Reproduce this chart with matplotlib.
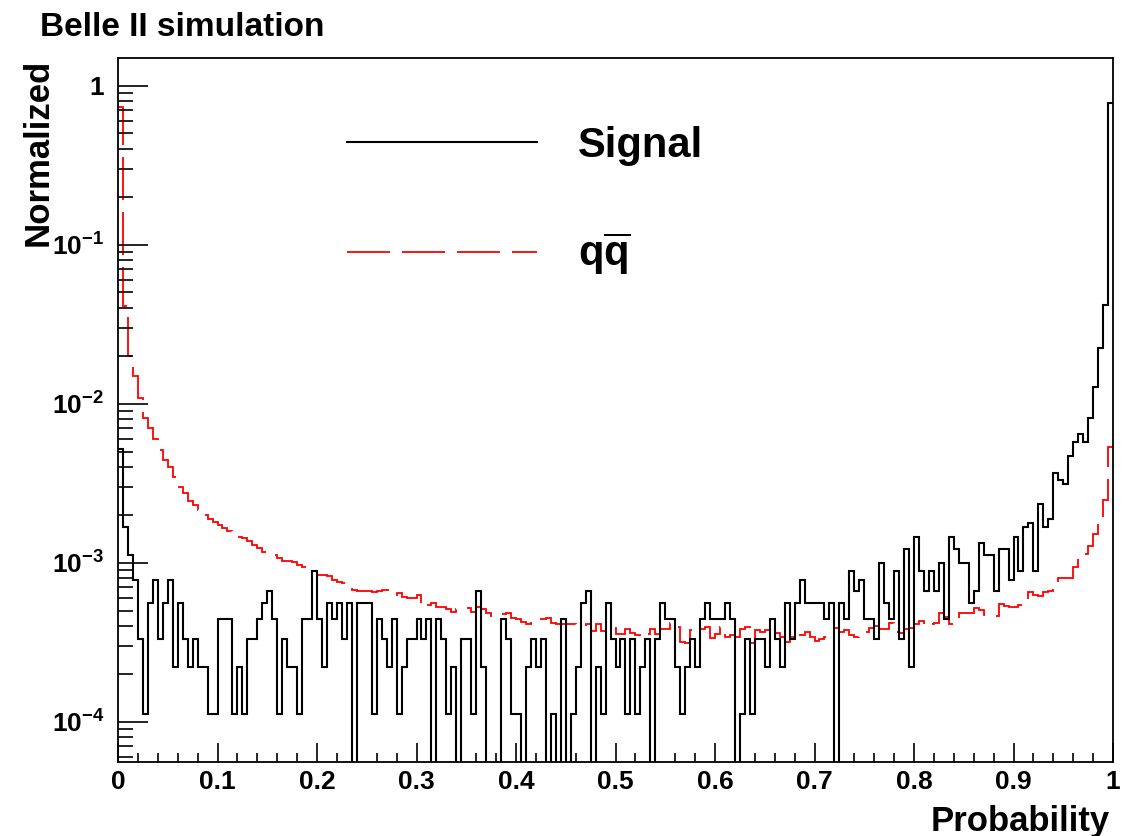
import numpy as np
import matplotlib
matplotlib.use('Agg')
from matplotlib import pyplot as plt
from matplotlib.lines import Line2D
from matplotlib.ticker import LogLocator, MultipleLocator, NullFormatter

plt.rcParams['font.family'] = 'Liberation Sans'
plt.rcParams['font.weight'] = 'bold'
plt.rcParams['mathtext.fontset'] = 'custom'
plt.rcParams['mathtext.rm'] = 'Liberation Sans:bold'
plt.rcParams['mathtext.it'] = 'Liberation Sans:bold'
plt.rcParams['mathtext.bf'] = 'Liberation Sans:bold'
plt.rcParams['lines.scale_dashes'] = False

# histogram binning
x_lo, x_hi, n_bins = 0.0, 1.0, 200

# signal: entries per bin, one entry = 1.11e-4 after normalisation
signal_unit = 1.11e-4
signal_counts = [
    47, 15, 10, 7, 3, 1, 5, 7, 3, 5, 7, 2, 5, 3, 2, 3, 2, 2, 1, 1,
    4, 4, 4, 1, 2, 1, 3, 3, 4, 5, 6, 4, 1, 3, 2, 2, 1, 4, 4, 8,
    4, 2, 5, 4, 5, 3, 5, 0, 5, 5, 5, 1, 4, 3, 2, 4, 1, 2, 3, 3,
    4, 3, 4, 0, 4, 3, 1, 2, 0, 3, 3, 1, 6, 2, 0, 0, 0, 4, 3, 1,
    1, 0, 2, 3, 2, 3, 0, 1, 0, 4, 0, 1, 2, 5, 6, 0, 2, 1, 5, 3,
    2, 3, 1, 3, 1, 2, 3, 0, 3, 5, 4, 4, 2, 1, 2, 3, 2, 4, 5, 4,
    4, 4, 5, 4, 0, 1, 3, 1, 3, 3, 2, 4, 3, 2, 5, 3, 5, 7, 5, 5,
    5, 5, 4, 5, 0, 5, 4, 8, 6, 7, 4, 4, 3, 9, 5, 4, 8, 3, 11, 2,
    13, 8, 6, 8, 6, 9, 4, 13, 11, 9, 9, 5, 6, 12, 10, 10, 6, 11, 11, 7,
    13, 8, 15, 16, 8, 21, 15, 17, 33, 30, 28, 42, 52, 58, 52, 73, 114, 203, 377, 6990,
]

# q qbar background, normalised, in units of 1e-4
qqbar_e4 = [
    7300, 410, 200, 149, 108, 81, 70, 60, 51, 44,
    40, 34.8, 29.8, 27.3, 24.5, 23, 21.5, 20, 18.7, 18.0,
    17.2, 16.5, 15.8, 15.2, 14.5, 14.2, 13.6, 12.9, 12.3, 11.7,
    11.4, 11.2, 10.7, 10.3, 10.3, 10.1, 9.7, 9.4, 9.2, 8.8,
    8.4, 8.4, 8.2, 7.8, 7.6, 7.4, 7.0, 6.7, 6.6, 6.6,
    6.6, 6.5, 6.6, 6.7, 6.7, 6.25, 6.4, 6.1, 5.98, 5.98,
    6.25, 5.25, 5.4, 5.6, 5.3, 5.3, 5.1, 4.9, 5.1, 5.1,
    5.2, 4.9, 5.3, 5.1, 4.85, 4.6, 4.7, 4.75, 4.8, 4.5,
    4.4, 4.25, 4.1, 4.2, 4.3, 4.4, 4.5, 4.2, 4.1, 4.1,
    4.1, 4.1, 4.0, 4.0, 4.1, 3.7, 4.1, 3.7, 3.8, 3.87,
    3.55, 3.55, 3.85, 3.6, 3.51, 3.43, 3.56, 3.83, 3.56, 3.83,
    3.83, 4.19, 3.96, 3.18, 3.11, 3.77, 3.72, 3.83, 3.96, 3.34,
    3.56, 3.96, 3.43, 3.5, 3.43, 3.83, 3.96, 3.11, 3.77, 3.68,
    3.77, 4.06, 3.6, 3.43, 3.18, 3.43, 3.83, 3.5, 3.68, 3.4,
    3.2, 3.3, 3.43, 3.51, 3.87, 3.68, 3.77, 3.5, 3.43, 3.68,
    3.68, 3.87, 4.0, 3.83, 3.83, 4.15, 3.68, 3.6, 3.8, 3.87,
    4.1, 4.3, 4.0, 4.1, 4.2, 4.8, 4.57, 4.1, 4.5, 4.8,
    4.85, 4.85, 5.17, 5.05, 4.7, 4.6, 4.6, 5.46, 5.37, 5.3,
    5.3, 5.4, 5.5, 6.5, 6.25, 6.2, 6.5, 6.6, 7.1, 8.0,
    8.0, 8.0, 9.4, 11.0, 11.3, 12.7, 15.1, 19.1, 24.7, 53,
]

x_ticks = [0, 0.1, 0.2, 0.3, 0.4, 0.5, 0.6, 0.7, 0.8, 0.9, 1]
x_ticklabels = ['0', '0.1', '0.2', '0.3', '0.4', '0.5', '0.6', '0.7', '0.8', '0.9', '1']
y_ticks = [1e-4, 1e-3, 1e-2, 1e-1, 1]
y_ticklabels = [r'$10^{-4}$', r'$10^{-3}$', r'$10^{-2}$', r'$10^{-1}$', '1']
y_range = (5.58e-5, 1.49)

edges = np.linspace(x_lo, x_hi, n_bins + 1)
signal = np.array(signal_counts) * signal_unit
qqbar = np.array(qqbar_e4) * 1e-4

W, H = 1140, 836
fig = plt.figure(figsize=(W / 100, H / 100), dpi=100)
ax = fig.add_axes([118 / W, 1 - 762 / H, (1113 - 118) / W, (762 - 58) / H])

red_dash = (0, (31, 8.6))
ax.stairs(qqbar, edges, baseline=None, color='red', lw=1.3, linestyle=red_dash)
ax.stairs(signal, edges, baseline=None, color='black', lw=1.5)

ax.set_yscale('log')
ax.set_xlim(x_lo, x_hi)
ax.set_ylim(*y_range)

ax.set_xticks(x_ticks, labels=x_ticklabels)
ax.xaxis.set_minor_locator(MultipleLocator(0.02))
ax.set_yticks(y_ticks, labels=y_ticklabels)
ax.yaxis.set_minor_locator(LogLocator(base=10, subs=np.arange(2, 10), numticks=30))
ax.yaxis.set_minor_formatter(NullFormatter())

ax.tick_params(which='both', direction='in', top=False, right=False, width=1.2, labelsize=19)
ax.tick_params(axis='x', which='major', length=13.7, pad=6)
ax.tick_params(axis='x', which='minor', length=6.5)
ax.tick_params(axis='y', which='major', length=21.6, pad=10)
ax.tick_params(axis='y', which='minor', length=10.8)
for sp in ax.spines.values():
    sp.set_linewidth(1.3)

handles = [Line2D([], [], color='black', lw=1.5),
           Line2D([], [], color='red', lw=1.3, linestyle=red_dash)]
fig.legend(handles, ['Signal', r'$q\overline{q}$'], loc='upper left',
           bbox_to_anchor=(347 / W, 1 - 126 / H), frameon=False, fontsize=30,
           handlelength=4.56, handletextpad=0.98, labelspacing=1.55,
           borderpad=0, borderaxespad=0)

fig.text(40 / W, 1 - 27 / H, 'Belle II simulation', fontsize=24, ha='left', va='center')
fig.text(38 / W, 1 - 152 / H, 'Normalized', fontsize=25, rotation=90, ha='center', va='center')
fig.text(1110 / W, 1 - 831 / H, 'Probability', fontsize=25, ha='right', va='baseline')

fig.savefig('out.png', dpi=100)
